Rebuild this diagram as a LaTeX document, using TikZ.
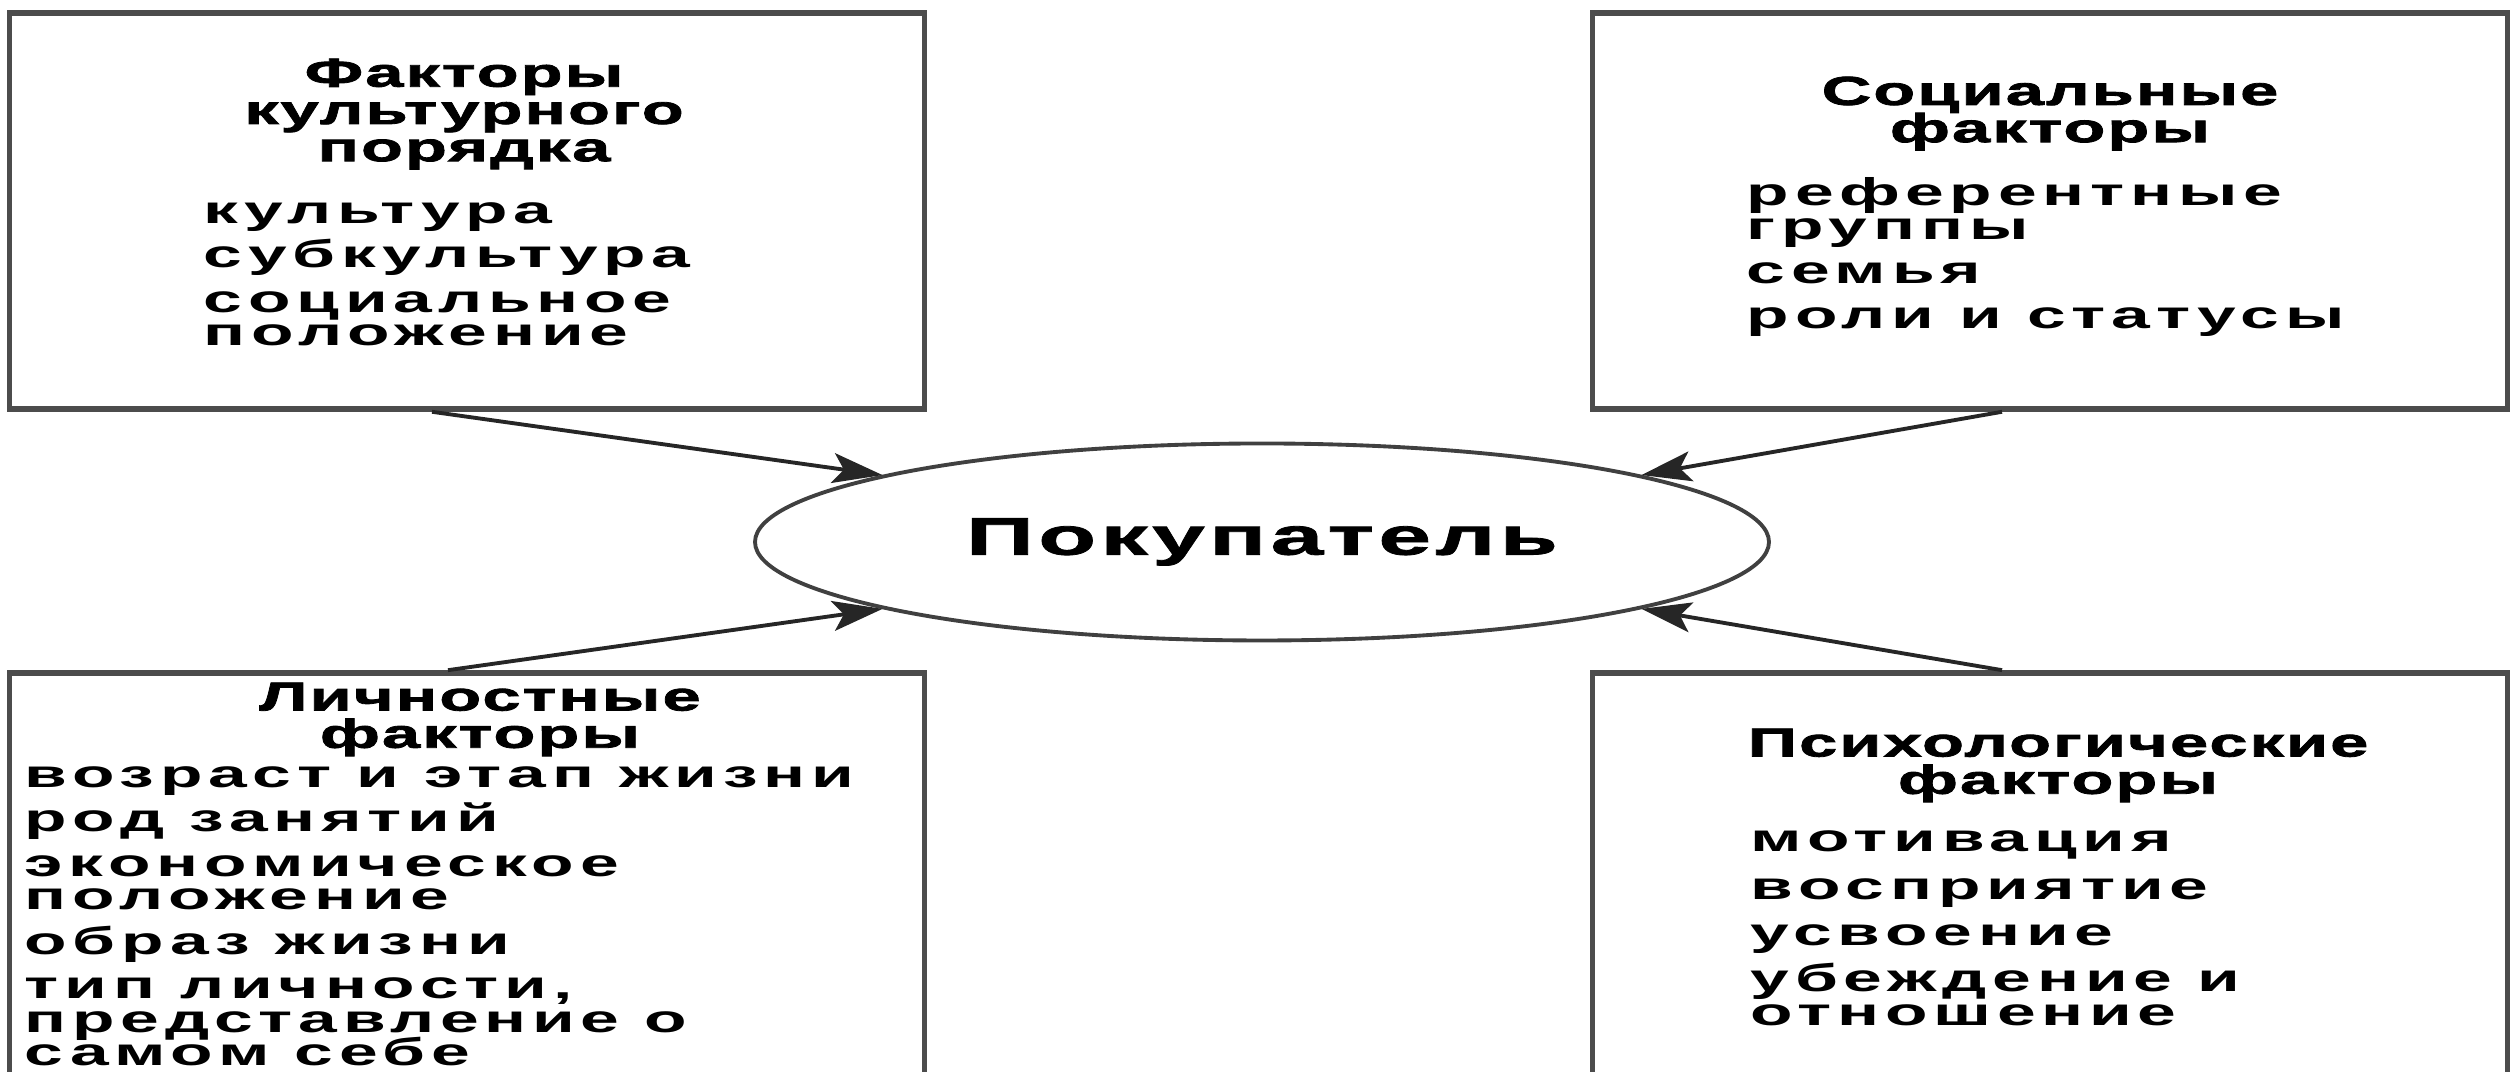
\documentclass[tikz,border=0pt]{standalone}
\usepackage{fontspec}
\setmainfont{Liberation Sans}
\newfontfamily\wideSans[FakeStretch=1.8, LetterSpace=15]{Liberation Sans}
\newfontfamily\wideHead[FakeStretch=1.7, LetterSpace=5, FakeBold=2]{Liberation Sans}
\newfontfamily\wideName[FakeStretch=1.8, LetterSpace=8, FakeBold=1.5]{Liberation Sans}
\usepackage{tikz}
\usetikzlibrary{arrows.meta, positioning, calc, shapes.geometric}
\lineskiplimit=-20pt

\begin{document}
\begin{tikzpicture}[
    factorbox/.style={draw=black!70, line width=1.6pt, minimum width=9.15cm, minimum height=3.96cm, inner sep=0pt},
    boxtitle/.style={font=\wideHead\bfseries\fontsize{11.5}{10.6}\selectfont, align=center, inner sep=0pt},
    boxitems/.style={font=\wideSans\bfseries\fontsize{11}{9.6}\selectfont, align=left, inner sep=0pt},
    infl/.style={-{Stealth[length=5mm, width=3mm, inset=1.1mm]}, line width=1.1pt, black!85}
  ]
    \useasboundingbox (0,0) rectangle (25.11,10.72);

    % Factor boxes
    \node[factorbox] (tl) at (4.67,8.61) {};
    \node[factorbox] (tr) at (20.50,8.61) {};
    \node[factorbox, minimum height=4.4cm] (bl) at (4.67,1.79) {};
    \node[factorbox, minimum height=4.4cm] (br) at (20.50,1.79) {};

    % Buyer
    \node[ellipse, draw=black!75, line width=1.1pt, minimum width=10.14cm, minimum height=1.97cm,
          font=\wideName\bfseries\fontsize{15}{15}\selectfont] (cust) at (12.62,5.30) {Покупатель};

    % Texts of the top boxes
    \node[boxtitle, anchor=north] (tltitle) at (4.64,10.14) {Факторы\\культурного\\порядка};
    \node[boxitems, anchor=north west] (tlitems) at (2.03,8.70)
      {культура\\[3pt]субкультура\\[3pt]социальное\\положение};
    \node[boxtitle, anchor=north] (trtitle) at (20.50,9.96) {Социальные\\факторы};
    \node[boxitems, anchor=north west] (tritems) at (17.46,8.95)
      {референтные\\группы\\[3pt]семья\\[3pt]роли и статусы};

    % Texts of the bottom boxes
    \node[boxtitle, anchor=north] (bltitle) at (4.80,3.90) {Личностные\\факторы};
    \node[boxitems, anchor=north west] (blitems) at (0.24,3.06)
      {возраст и этап жизни\\[3pt]род занятий\\[3pt]экономическое\\положение\\[3pt]образ жизни\\[3pt]тип личности,\\представление о\\самом себе};
    \node[boxtitle, anchor=north] (brtitle) at (20.58,3.44) {Психологические\\факторы};
    \node[boxitems, anchor=north west] (britems) at (17.50,2.42)
      {мотивация\\[4pt]восприятие\\[3.5pt]усвоение\\[3.5pt]убеждение и\\отношение};

    % Influences
    \draw[infl] ([xshift=-0.35cm]tl.south) -- (cust.170);
    \draw[infl] ([xshift=-0.48cm]tr.south) -- (cust.10);
    \draw[infl] ([xshift=-0.19cm]bl.north) -- (cust.190);
    \draw[infl] ([xshift=-0.48cm]br.north) -- (cust.350);
\end{tikzpicture}
\end{document}
